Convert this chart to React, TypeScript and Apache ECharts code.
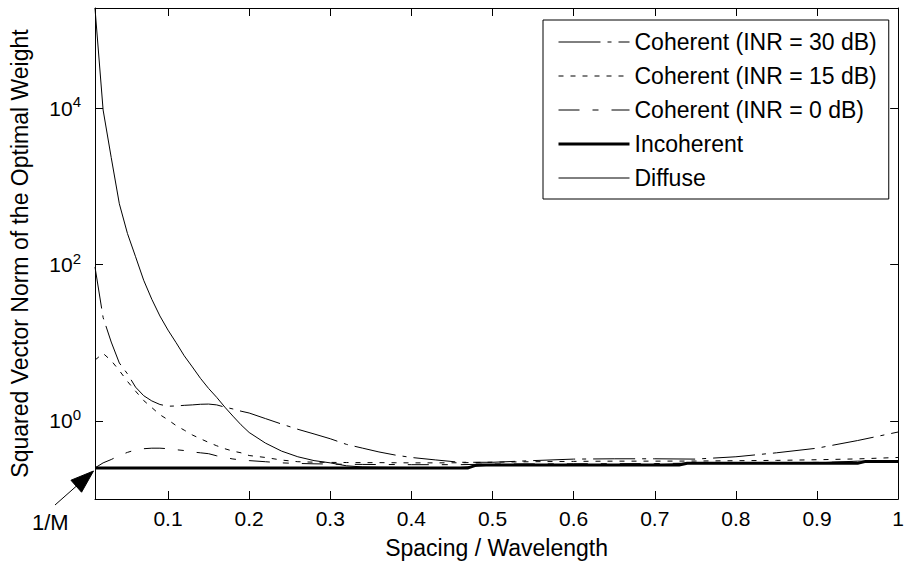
import React, { useEffect, useRef } from "react";
import * as echarts from "echarts";

const FONT = "'Liberation Sans', Arial, Helvetica, sans-serif";

// x positions (spacing / wavelength)
const xCoh = [
  0.01, 0.02, 0.03, 0.04, 0.05, 0.06, 0.07, 0.08, 0.09, 0.10,
  0.11, 0.12, 0.13, 0.14, 0.15, 0.16, 0.17, 0.18, 0.19, 0.20,
  0.22, 0.24, 0.26, 0.28, 0.30, 0.32, 0.34, 0.36, 0.38, 0.40,
  0.43, 0.46, 0.50,
  0.55, 0.60, 0.65, 0.70, 0.75, 0.80, 0.85, 0.90, 0.95, 1.00,
];

const coh30 = [
  93, 21, 10.2, 5.5, 4.0, 2.7, 2.1, 1.8, 1.62, 1.54,
  1.55, 1.58, 1.6, 1.63, 1.64, 1.6, 1.5, 1.42, 1.33, 1.26,
  1.07, 0.91, 0.78, 0.68, 0.59, 0.5, 0.447, 0.4, 0.365, 0.34,
  0.316, 0.295, 0.295,
  0.31, 0.324, 0.327, 0.327, 0.324, 0.347, 0.39, 0.447, 0.56, 0.72,
];

const coh15 = [
  6.0, 7.3, 5.9, 4.4, 3.2, 2.4, 1.82, 1.48, 1.2, 1.03,
  0.87, 0.76, 0.66, 0.59, 0.53, 0.48, 0.44, 0.41, 0.39, 0.36,
  0.34, 0.315, 0.3, 0.296, 0.294, 0.293, 0.292, 0.292, 0.291, 0.29,
  0.29, 0.291, 0.296,
  0.3, 0.303, 0.305, 0.305, 0.306, 0.309, 0.312, 0.318, 0.326, 0.34,
];

const coh0 = [
  0.25, 0.29, 0.32, 0.36, 0.395, 0.425, 0.44, 0.447, 0.447, 0.44,
  0.427, 0.417, 0.4, 0.39, 0.38, 0.357, 0.34, 0.325, 0.316, 0.31,
  0.3, 0.29, 0.285, 0.282, 0.28, 0.278, 0.277, 0.276, 0.276, 0.275,
  0.275, 0.275, 0.28,
  0.281, 0.282, 0.283, 0.284, 0.288, 0.29, 0.292, 0.294, 0.298, 0.305,
];

const diffuse = [
  190000, 9500, 2340, 600, 250, 126, 63, 36, 22, 14.5,
  10, 6.8, 4.9, 3.5, 2.6, 2.0, 1.5, 1.15, 0.89, 0.71,
  0.52, 0.41, 0.347, 0.31, 0.29, 0.266, 0.257, 0.255, 0.254, 0.253,
  0.253, 0.253, 0.272,
  0.273, 0.274, 0.274, 0.274, 0.288, 0.288, 0.289, 0.29, 0.305, 0.306,
];

const xInc = [0.01, 0.47, 0.48, 0.73, 0.74, 0.95, 0.96, 1.0];
const incoherent = [0.25, 0.25, 0.272, 0.272, 0.286, 0.286, 0.303, 0.303];

const xTicks = [0.1, 0.2, 0.3, 0.4, 0.5, 0.6, 0.7, 0.8, 0.9, 1];
const yTicks = [1, 100, 10000];

const names = [
  "Coherent (INR = 30 dB)",
  "Coherent (INR = 15 dB)",
  "Coherent (INR = 0 dB)",
  "Incoherent",
  "Diffuse",
];

const pair = (xs: number[], ys: number[]) => xs.map((x, i) => [x, ys[i]]);

export default function App() {
  const ref = useRef<HTMLDivElement>(null);
  useEffect(() => {
    if (!ref.current) return;
    const chart = echarts.init(ref.current, null, { renderer: "svg" });
    const axisLine = { show: true, onZero: false, lineStyle: { color: "#000", width: 1 } };
    const xTick = { show: true, inside: true, length: 8, customValues: xTicks, lineStyle: { color: "#000", width: 1 } };
    const yTick = { show: true, inside: true, length: 8, customValues: yTicks, lineStyle: { color: "#000", width: 1 } };
    const mkLine = (name: string, data: number[][], type: any, width: number, z = 2) => ({
      name,
      type: "line",
      data,
      symbol: "none",
      showSymbol: false,
      z,
      lineStyle: { color: "#000", width, type },
      itemStyle: { color: "#000" },
      emphasis: { disabled: true },
    });
    // arrow geometry for the 1/M annotation
    const tip = [93.5, 471];
    const tail = [55, 505];
    const dx = tip[0] - tail[0];
    const dy = tip[1] - tail[1];
    const L = Math.sqrt(dx * dx + dy * dy);
    const ux = dx / L, uy = dy / L;
    const hl = 23, hw = 8;
    const bx = tip[0] - ux * hl, by = tip[1] - uy * hl;
    const option: any = {
      animation: false,
      textStyle: { fontFamily: FONT, color: "#000" },
      grid: { left: 94, right: 6, top: 8, bottom: 68 },
      xAxis: [
        {
          type: "value",
          min: 0.01,
          max: 1,
          position: "bottom",
          axisLine,
          axisTick: xTick,
          axisLabel: {
            customValues: xTicks,
            color: "#000",
            fontSize: 21,
            margin: 9,
            fontFamily: FONT,
            formatter: (v: number) => (Math.abs(v - 1) < 1e-9 ? "1" : v.toFixed(1)),
          },
          splitLine: { show: false },
          name: "Spacing / Wavelength",
          nameLocation: "middle",
          nameGap: 37,
          nameTextStyle: { fontSize: 23, color: "#000", fontFamily: FONT },
        },
        {
          type: "value",
          min: 0.01,
          max: 1,
          position: "top",
          axisLine,
          axisTick: xTick,
          axisLabel: { show: false },
          splitLine: { show: false },
        },
      ],
      yAxis: [
        {
          type: "log",
          logBase: 10,
          min: 0.1,
          max: 192000,
          position: "left",
          axisLine,
          axisTick: yTick,
          axisLabel: {
            customValues: yTicks,
            color: "#000",
            fontSize: 21,
            margin: 14,
            fontFamily: FONT,
            formatter: (v: number) => `10{s|${Math.round(Math.log10(v))}}`,
            rich: { s: { fontSize: 15, padding: [0, 0, 13, 0], color: "#000", fontFamily: FONT } },
          },
          splitLine: { show: false },
          minorTick: { show: false },
          name: "Squared Vector Norm of the Optimal Weight",
          nameLocation: "middle",
          nameGap: 64,
          nameTextStyle: { fontSize: 23, color: "#000", fontFamily: FONT },
        },
        {
          type: "log",
          logBase: 10,
          min: 0.1,
          max: 192000,
          position: "right",
          axisLine,
          axisTick: yTick,
          axisLabel: { show: false },
          splitLine: { show: false },
        },
      ],
      legend: {
        orient: "vertical",
        left: 543,
        top: 20,
        itemWidth: 71,
        itemHeight: 14,
        itemGap: 10,
        padding: [10, 12, 9, 14],
        borderColor: "#000",
        borderWidth: 1,
        backgroundColor: "#fff",
        itemStyle: { opacity: 0 },
        lineStyle: { width: "inherit", type: "inherit", color: "#000" },
        textStyle: { fontSize: 23, color: "#000", lineHeight: 24, fontFamily: FONT },
        data: names,
        selectedMode: false,
      },
      series: [
        mkLine(names[0], pair(xCoh, coh30), [42, 7, 4, 7], 1),
        mkLine(names[1], pair(xCoh, coh15), [5, 7], 1),
        mkLine(names[2], pair(xCoh, coh0), [21, 13, 6, 13], 1),
        mkLine(names[3], pair(xInc, incoherent), "solid", 3, 4),
        mkLine(names[4], pair(xCoh, diffuse), "solid", 1),
      ],
      graphic: [
        {
          type: "text",
          left: 50 - 18,
          top: 523 - 12,
          style: { text: "1/M", fontSize: 22, fill: "#000", fontFamily: FONT },
        },
        {
          type: "line",
          shape: { x1: tail[0], y1: tail[1], x2: bx, y2: by },
          style: { stroke: "#000", lineWidth: 1 },
        },
        {
          type: "polygon",
          shape: {
            points: [
              [tip[0], tip[1]],
              [bx - uy * hw, by + ux * hw],
              [bx + uy * hw, by - ux * hw],
            ],
          },
          style: { fill: "#000", stroke: "#000" },
        },
      ],
    };
    chart.setOption(option);
    return () => chart.dispose();
  }, []);
  return (
    <div
      ref={ref}
      style={{ position: "absolute", left: 0, top: 0, width: 907, height: 567, background: "#fff" }}
    />
  );
}
